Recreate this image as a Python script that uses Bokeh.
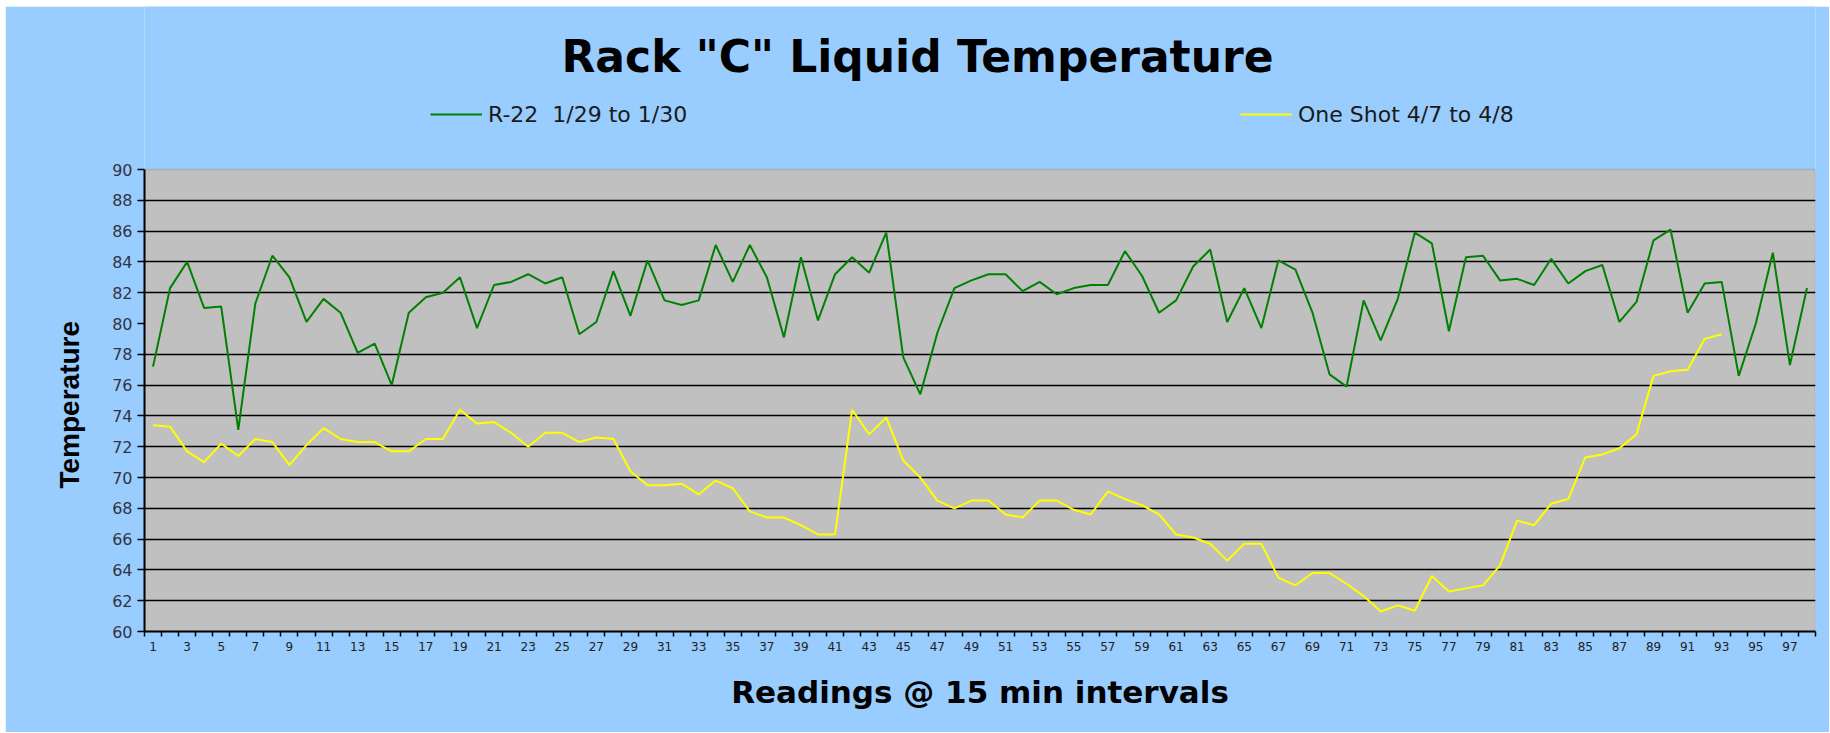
from bokeh.plotting import figure
from bokeh.models import (Range1d, FixedTicker, Label, Legend, LegendItem,
                          BoxAnnotation, Title)
from bokeh.embed import file_html
from bokeh.resources import INLINE

# ---- data ----
readings_r22 = [
    77.2, 82.3, 84.0, 81.0, 81.1, 73.1, 81.3, 84.4, 83.0, 80.1,
    81.6, 80.7, 78.1, 78.7, 76.0, 80.7, 81.7, 82.0, 83.0, 79.7,
    82.5, 82.7, 83.2, 82.6, 83.0, 79.3, 80.1, 83.4, 80.5, 84.1,
    81.5, 81.2, 81.5, 85.1, 82.7, 85.1, 83.0, 79.1, 84.3, 80.2,
    83.2, 84.3, 83.3, 85.9, 77.8, 75.4, 79.4, 82.3, 82.8, 83.2,
    83.2, 82.1, 82.7, 81.9, 82.3, 82.5, 82.5, 84.7, 83.1, 80.7,
    81.5, 83.7, 84.8, 80.1, 82.3, 79.7, 84.1, 83.5, 80.7, 76.7,
    75.9, 81.5, 78.9, 81.6, 85.9, 85.2, 79.5, 84.3, 84.4, 82.8,
    82.9, 82.5, 84.2, 82.6, 83.4, 83.8, 80.1, 81.4, 85.4, 86.1,
    80.7, 82.6, 82.7, 76.6, 80.0, 84.6, 77.3, 82.3,
]
readings_one_shot = [
    73.4, 73.3, 71.7, 71.0, 72.2, 71.4, 72.5, 72.3, 70.8, 72.1,
    73.2, 72.5, 72.3, 72.3, 71.7, 71.7, 72.5, 72.5, 74.4, 73.5,
    73.6, 72.9, 72.0, 72.9, 72.9, 72.3, 72.6, 72.5, 70.4, 69.5,
    69.5, 69.6, 68.9, 69.8, 69.3, 67.8, 67.4, 67.4, 66.9, 66.3,
    66.3, 74.4, 72.8, 73.9, 71.1, 70.0, 68.5, 68.0, 68.5, 68.5,
    67.6, 67.4, 68.5, 68.5, 67.9, 67.6, 69.1, 68.6, 68.2, 67.6,
    66.3, 66.1, 65.7, 64.6, 65.7, 65.7, 63.5, 63.0, 63.8, 63.8,
    63.1, 62.3, 61.3, 61.7, 61.35, 63.6, 62.6, 62.8, 63.0, 64.3,
    67.2, 66.9, 68.3, 68.6, 71.3, 71.5, 71.9, 72.8, 76.6, 76.9,
    77.0, 79.0, 79.3,
]
n_readings = 98
x_r22 = list(range(1, len(readings_r22) + 1))
x_one_shot = list(range(1, len(readings_one_shot) + 1))
y_min, y_max = 60, 90
y_ticks = list(range(y_min, y_max + 1, 2))
x_label_ticks = list(range(1, n_readings, 2))

title_text = 'Rack "C" Liquid Temperature'
series_names = ["R-22  1/29 to 1/30", "One Shot 4/7 to 4/8"]
x_title = "Readings @ 15 min intervals"
y_title = "Temperature"

# ---- layout (pixels) ----
W, H = 1824, 726
BORDER_L, BORDER_R, BORDER_B = 139, 14, 101
FRAME_H = H - BORDER_B                # frame spans from canvas top
PX_PER_DEG = 15.4                     # plot area: 90 at 163px below frame top
y_top = y_min + FRAME_H / PX_PER_DEG  # room above 90 for title and legend
BG = "#99CCFF"

p = figure(width=W, height=H, output_backend="svg", toolbar_location=None,
           title=None,
           x_range=Range1d(0.5, n_readings + 0.5), y_range=Range1d(y_min, y_top),
           min_border_left=BORDER_L, min_border_right=BORDER_R,
           min_border_top=0, min_border_bottom=BORDER_B)
p.margin = (6, 0, 0, 5)
p.background_fill_color = BG
p.border_fill_color = BG
p.outline_line_color = None

# grey plot area with thin grey border
p.add_layout(BoxAnnotation(bottom=y_min, top=y_max, fill_color="#C0C0C0",
                           fill_alpha=1.0, line_color="#808080",
                           line_width=1.5, level="image"))

# x axis: labels on odd readings, tick marks between categories
p.xaxis.ticker = FixedTicker(ticks=x_label_ticks,
                             minor_ticks=[k + 0.5 for k in range(0, n_readings + 1)])
p.xaxis.major_tick_line_color = None
p.xaxis.major_tick_out = 0
p.xaxis.major_tick_in = 0
p.xaxis.minor_tick_line_color = "black"
p.xaxis.minor_tick_line_width = 1.5
p.xaxis.minor_tick_out = 5
p.xaxis.minor_tick_in = 0
p.xaxis.axis_line_color = "black"
p.xaxis.axis_line_width = 2
p.xaxis.major_label_text_font = "DejaVu Sans"
p.xaxis.major_label_text_font_size = "12px"
p.xaxis.major_label_text_color = "#222222"
p.xaxis.major_label_standoff = 5
p.xaxis.axis_label = x_title
p.xaxis.axis_label_text_font = "DejaVu Sans"
p.xaxis.axis_label_text_font_style = "bold"
p.xaxis.axis_label_text_font_size = "31px"
p.xaxis.axis_label_text_color = "black"
p.xaxis.axis_label_standoff = 20

# y axis (only spans 60..90)
p.yaxis.bounds = (y_min, y_max)
p.yaxis.ticker = FixedTicker(ticks=y_ticks)
p.yaxis.major_tick_out = 7
p.yaxis.major_tick_in = 0
p.yaxis.major_tick_line_color = "black"
p.yaxis.major_tick_line_width = 1.5
p.yaxis.minor_tick_line_color = None
p.yaxis.axis_line_color = "black"
p.yaxis.axis_line_width = 2
p.yaxis.major_label_text_font = "DejaVu Sans"
p.yaxis.major_label_text_font_size = "16px"
p.yaxis.major_label_text_color = "#333344"
p.yaxis.major_label_standoff = 5

# y-axis title, centred on the 60..90 span (not on the taller frame)
p.add_layout(Title(text=y_title, align="left", offset=143, standoff=50,
                   text_font="Liberation Sans", text_font_style="bold",
                   text_font_size="28px", text_color="black"), "left")

# grid (the reference shows no line at 80)
p.xgrid.visible = False
p.ygrid.ticker = FixedTicker(ticks=[t for t in y_ticks if t not in (y_min, 80, y_max)])
p.ygrid.grid_line_color = "black"
p.ygrid.grid_line_width = 1.5

# series
r1 = p.line(x_r22, readings_r22, line_color="#008000", line_width=2)
r2 = p.line(x_one_shot, readings_one_shot, line_color="#FFFF00", line_width=2)

# legends (two separate entries, as in the reference)
def make_legend(name, renderer, loc):
    return Legend(items=[LegendItem(label=name, renderers=[renderer])],
                  location=loc, orientation="horizontal",
                  padding=0, margin=0, spacing=0,
                  border_line_color=None, background_fill_alpha=0,
                  glyph_width=52, glyph_height=20, label_height=20,
                  label_standoff=6,
                  label_text_font="DejaVu Sans", label_text_font_size="22px",
                  label_text_color="#1a1a1a")

p.add_layout(make_legend(series_names[0], r1, (286, 504.5)))
p.add_layout(make_legend(series_names[1], r2, (1096, 504.5)))

# chart title, centred on the whole chart
p.add_layout(Label(x=773, y=575, x_units="screen", y_units="screen",
                   text=title_text, text_font="DejaVu Sans",
                   text_font_style="bold", text_font_size="44px",
                   text_color="black", text_align="center",
                   text_baseline="alphabetic"))

open("out.html", "w").write(file_html(p, INLINE))
